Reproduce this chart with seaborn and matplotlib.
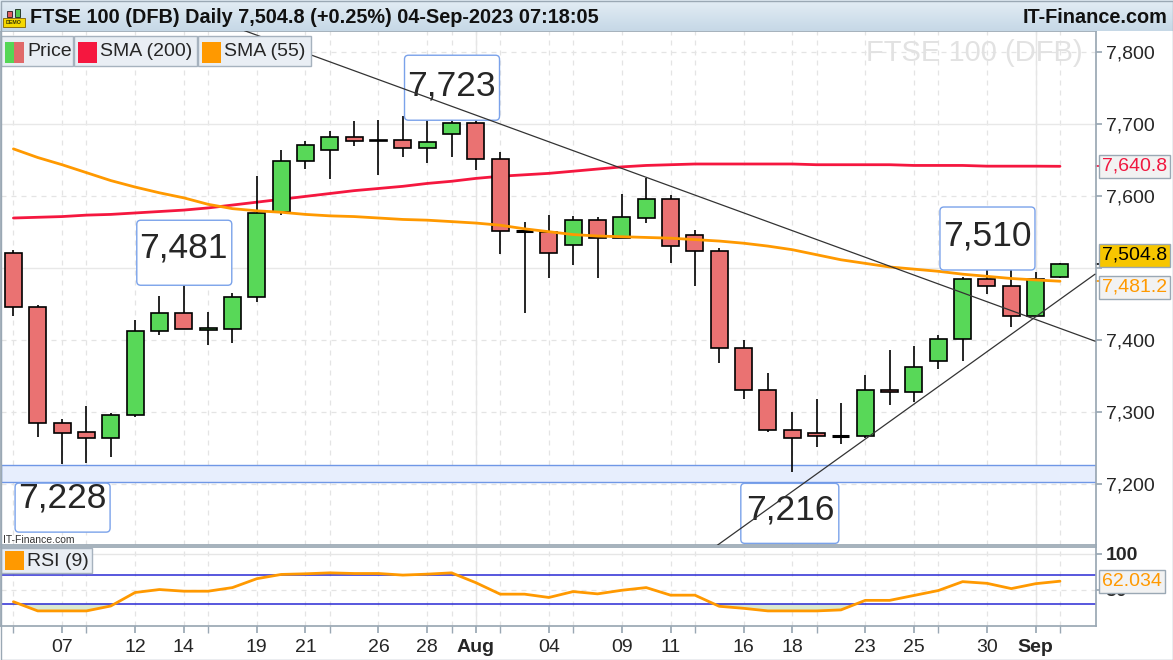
import numpy as np
import pandas as pd
import matplotlib.pyplot as plt
import matplotlib.patches as mpatches
import matplotlib.transforms as mtransforms
from matplotlib.colors import LinearSegmentedColormap
import seaborn as sns

# ---- data ----
dates = pd.bdate_range("2023-07-05", "2023-09-04")

opens = [7521, 7446, 7285, 7272, 7264, 7296, 7412, 7437, 7413, 7415,
         7459, 7577, 7648, 7664, 7682, 7676, 7678, 7666, 7685, 7701,
         7651, 7551, 7549, 7532, 7566, 7541, 7569, 7595, 7545, 7523,
         7388, 7330, 7274, 7270, 7266, 7266, 7330, 7327, 7370, 7401,
         7484, 7474, 7433, 7487]
highs = [7525, 7448, 7290, 7308, 7298, 7427, 7461, 7481, 7438, 7465,
         7628, 7663, 7676, 7690, 7704, 7705, 7711, 7719, 7723, 7713,
         7661, 7563, 7573, 7572, 7571, 7602, 7624, 7601, 7552, 7527,
         7400, 7354, 7300, 7318, 7312, 7351, 7386, 7391, 7407, 7487,
         7510, 7502, 7494, 7507]
lows = [7433, 7265, 7228, 7229, 7237, 7292, 7407, 7415, 7393, 7396,
        7453, 7573, 7637, 7623, 7669, 7629, 7654, 7646, 7654, 7635,
        7519, 7437, 7485, 7504, 7486, 7541, 7562, 7507, 7475, 7368,
        7317, 7272, 7216, 7251, 7255, 7263, 7310, 7314, 7360, 7371,
        7464, 7418, 7432, 7485]
closes = [7446, 7285, 7270, 7264, 7296, 7412, 7437, 7415, 7416, 7459,
          7576, 7648, 7671, 7682, 7676, 7678, 7666, 7674, 7701, 7651,
          7551, 7551, 7521, 7566, 7541, 7571, 7595, 7530, 7523, 7388,
          7330, 7274, 7263, 7266, 7266, 7330, 7327, 7362, 7401, 7484,
          7474, 7433, 7484, 7504.8]

sma200 = [7569, 7570, 7571, 7573, 7574, 7576, 7578, 7580, 7583, 7587,
          7591, 7595, 7599, 7603, 7607, 7610, 7613, 7617, 7620, 7624,
          7627, 7629, 7631, 7634, 7637, 7640, 7642, 7643, 7644, 7644,
          7644, 7644, 7644, 7643, 7643, 7643, 7643, 7642, 7642, 7642,
          7641, 7641, 7641, 7640.8]
sma55 = [7665, 7653, 7643, 7632, 7621, 7612, 7604, 7597, 7588, 7582,
         7579, 7577, 7574, 7572, 7571, 7569, 7567, 7566, 7564, 7562,
         7559, 7554, 7550, 7546, 7544, 7543, 7542, 7541, 7539, 7537,
         7534, 7530, 7525, 7518, 7511, 7506, 7501, 7498, 7495, 7491,
         7488, 7485, 7483, 7481.2]
rsi9 = [33.6, 20.9, 20.9, 20.9, 27.7, 46.4, 50.5, 48.2, 48.2, 53.2,
        65.5, 71.4, 72.3, 73.6, 72.7, 72.7, 70.5, 71.8, 73.6, 60.0,
        44.1, 44.1, 39.5, 47.7, 44.5, 49.5, 53.2, 42.7, 42.7, 27.3,
        24.5, 20.9, 20.9, 20.9, 22.3, 35.5, 35.5, 42.3, 49.1, 61.4,
        59.1, 51.8, 58.6, 62.034]

tick_dates = ["2023-07-07", "2023-07-12", "2023-07-14", "2023-07-19", "2023-07-21",
              "2023-07-26", "2023-07-28", "2023-08-01", "2023-08-04", "2023-08-09",
              "2023-08-11", "2023-08-16", "2023-08-18", "2023-08-23", "2023-08-25",
              "2023-08-30", "2023-09-01"]
tick_labels = ["07", "12", "14", "19", "21", "26", "28", "Aug", "04", "09",
               "11", "16", "18", "23", "25", "30", "Sep"]
minor_dates = ["2023-07-05", "2023-07-10", "2023-07-17", "2023-07-24", "2023-07-31",
               "2023-08-02", "2023-08-07", "2023-08-14", "2023-08-21", "2023-08-28",
               "2023-09-04"]

price_ticks = [7200, 7300, 7400, 7500, 7600, 7700, 7800]
support_band = [7203, 7226]
down_trend_x = [8.0, 44.44]
down_trend_y = [7847.6, 7398]
up_trend_x = [28.0, 44.44]
up_trend_y = [7092.2, 7491]
callout_text = ["7,723", "7,481", "7,228", "7,216", "7,510"]
callout_x = [18.0, 7.0, 2.0, 31.9, 40.0]
callout_y = [7752, 7527, 7180, 7163, 7544]

# box around each callout text, pixels from the text centre (left, top, right, bottom; y down)
callout_box = [(-47, -31, 48, 34), (-47, -28, 48, 37), (-47, -15, 48, 34),
               (-49, -27, 49, 33), (-47, -29, 48, 34)]

# ---- setup ----
sns.set_theme(style="white")
plt.rcParams['font.family'] = ['Liberation Sans', 'DejaVu Sans']

idx = np.arange(len(dates))
pos = {d.strftime("%Y-%m-%d"): i for i, d in enumerate(dates)}
major = [pos[d] for d in tick_dates]
minor = [pos[d] for d in minor_dates]

W, H = 1173, 660
fig = plt.figure(figsize=(W / 100, H / 100), dpi=100)
fig.patch.set_facecolor("white")

ax = fig.add_axes([1 / W, 1 - 545 / H, 1095 / W, 514 / H])
ax2 = fig.add_axes([1 / W, 1 - 626 / H, 1095 / W, 79 / H])

xlim = (-0.51, 44.48)
edge = "#9aa8b4"

# grid
for a in (ax, ax2):
    for t in major + minor:
        a.axvline(t, color="#e4e4e4", lw=0.9, ls=(0, (4, 4)), zorder=0)
    for m in [pos["2023-08-01"], pos["2023-09-01"]]:
        a.axvline(m, color="#e6e6e6", lw=1.0, zorder=0)
for p in price_ticks:
    if p in (7500, 7700):
        ax.axhline(p, color="#e8e8e8", lw=1.0, zorder=0)
    else:
        ax.axhline(p, color="#e4e4e4", lw=0.9, ls=(0, (4, 4)), zorder=0)

# support band
ax.axhspan(support_band[0], support_band[1], facecolor="#e7eefd", edgecolor="#6f97e6",
           lw=1.0, zorder=1)

# moving averages
sns.lineplot(x=idx, y=sma200, ax=ax, color="#f5173f", lw=2, zorder=2)
sns.lineplot(x=idx, y=sma55, ax=ax, color="#ff9900", lw=2, zorder=4)

# candles
o = np.array(opens); c = np.array(closes); hi = np.array(highs); lo = np.array(lows)
ax.vlines(idx, lo, hi, color="black", lw=1.2, zorder=3)
up = c > o
dn = c < o
ax.bar(idx[up], (c - o)[up], bottom=o[up], width=0.7, color="#58d858",
       edgecolor="black", lw=1.2, zorder=3)
ax.bar(idx[dn], (o - c)[dn], bottom=c[dn], width=0.7, color="#ea7272",
       edgecolor="black", lw=1.2, zorder=3)
flat = ~(up | dn)
ax.hlines(c[flat], idx[flat] - 0.35, idx[flat] + 0.35, color="black", lw=2.2, zorder=3)

# trend lines
ax.plot(down_trend_x, down_trend_y, color="#333333", lw=0.9, zorder=6)
ax.plot(up_trend_x, up_trend_y, color="#333333", lw=0.9, zorder=6)

ax.set_xlim(*xlim)
ax.set_ylim(7114.9, 7828.7)

# callouts: text plus a rounded box of fixed pixel size
for t, x, y, b in zip(callout_text, callout_x, callout_y, callout_box):
    px, py = ax.transData.transform((x, y))
    x0, x1 = px + b[0], px + b[2]
    y_top, y_bottom = py - b[1], py - b[3]
    box = mpatches.FancyBboxPatch((x0, y_bottom), x1 - x0, y_top - y_bottom,
                                  boxstyle="round,pad=0,rounding_size=4",
                                  fc="white", ec="#7aa2ea", lw=1, zorder=5,
                                  transform=mtransforms.IdentityTransform())
    ax.add_patch(box)
    ax.text(x, y, t, fontsize=25.5, ha="center", va="center", zorder=5.5)

ax.yaxis.tick_right()
ax.set_yticks(price_ticks)
ax.set_yticklabels(["7,200", "7,300", "7,400", "", "7,600", "7,700", "7,800"])
ax.tick_params(axis="y", labelsize=14, length=4, color=edge, pad=3, right=True)
ax.set_xticks([])
for s in ax.spines.values():
    s.set_color(edge)

ax.text(0.988, 0.958, "FTSE 100 (DFB)", transform=ax.transAxes, ha="right", va="center",
        fontsize=21, color="#e2e2e2", zorder=1)
ax.text(0.002, 0.0, "IT-Finance.com", transform=ax.transAxes, ha="left", va="bottom",
        fontsize=7.5, color="#333333", zorder=6)

# price tags on the right
def tag(value, text, color, fc, dy):
    ax.annotate(text, xy=(1.0, value), xycoords=("axes fraction", "data"),
                xytext=(6, dy), textcoords="offset pixels", ha="left", va="center",
                fontsize=14, color=color, annotation_clip=False, zorder=7,
                bbox=dict(boxstyle="square,pad=0.15", fc=fc, ec="#9aa8b4", lw=1))
    ax.plot([1.0, 1.004], [value, value], color=color, lw=1.2,
            transform=ax.get_yaxis_transform(), clip_on=False)

tag(sma200[-1], "7,640.8", "#f0173f", "#f2f2f2", 0)
tag(closes[-1], "7,504.8", "black", "#f7c600", 9)
tag(sma55[-1], "7,481.2", "#ff9900", "#f2f2f2", -6)

# ---- RSI panel ----
ax2.axhline(100, color="#e6e6e6", lw=1.0, zorder=0)
ax2.axhline(50, color="#e4e4e4", lw=0.9, ls=(0, (4, 4)), zorder=0)
ax2.axhline(70, color="#2a2ad4", lw=1.1, zorder=2)
ax2.axhline(30, color="#2a2ad4", lw=1.1, zorder=2)
r = np.array(rsi9)
ax2.fill_between(idx, r, 30, where=r < 30, interpolate=True, color="#d9e9d2", zorder=1)
sns.lineplot(x=idx, y=rsi9, ax=ax2, color="#ff9900", lw=2, zorder=3)
ax2.set_xlim(*xlim)
ax2.set_ylim(0, 109.4)
ax2.yaxis.tick_right()
ax2.set_yticks([50, 100])
ax2.set_yticklabels(["50", "100"], fontweight="bold")
ax2.tick_params(axis="y", labelsize=14, length=4, color=edge, pad=3, right=True)
ax2.set_xticks(major)
ax2.set_xticklabels(tick_labels)
ax2.set_xticks(minor, minor=True)
ax2.tick_params(axis="x", which="both", labelsize=14, length=5, color=edge, bottom=True, pad=4)
for lab in ax2.get_xticklabels():
    if lab.get_text() in ("Aug", "Sep"):
        lab.set_fontweight("bold")
for s in ax2.spines.values():
    s.set_color(edge)
ax2.set_xlabel(""); ax2.set_ylabel(""); ax.set_xlabel(""); ax.set_ylabel("")

ax2.annotate("62.034", xy=(1.0, rsi9[-1]), xycoords=("axes fraction", "data"),
             xytext=(6, 0), textcoords="offset pixels", ha="left", va="center",
             fontsize=14, color="#ff9900", annotation_clip=False, zorder=7,
             bbox=dict(boxstyle="square,pad=0.15", fc="#f2f2f2", ec="#9aa8b4", lw=1))

# ---- chrome: header, legends ----
head = fig.add_axes([0, 1 - 31 / H, 1, 31 / H])
grad = np.linspace(0, 1, 50).reshape(-1, 1)
head.imshow(grad, aspect="auto", extent=(0, 1, 0, 1),
            cmap=LinearSegmentedColormap.from_list("h", ["#e3edf5", "#c6d8e6"]))
head.set_xlim(0, 1); head.set_ylim(0, 1); head.axis("off")
head.text(30 / W, 0.45, "FTSE 100 (DFB) Daily 7,504.8 (+0.25%) 04-Sep-2023 07:18:05",
          fontsize=14.3, fontweight="bold", va="center", ha="left", color="#111111")
head.text(1168 / W, 0.45, "IT-Finance.com", fontsize=14.3, fontweight="bold",
          va="center", ha="right", color="#111111")

lay = fig.add_axes([0, 0, 1, 1], zorder=20)
lay.set_xlim(0, W); lay.set_ylim(H, 0); lay.axis("off")
lay.patch.set_alpha(0)

# demo icon
lay.add_patch(mpatches.Rectangle((3, 18), 22, 9, fc="#f5d800", ec="#806000", lw=0.6))
lay.text(14, 22.5, "DEMO", fontsize=3.8, ha="center", va="center", color="#333300",
         fontweight="bold")
lay.add_patch(mpatches.Rectangle((7, 11), 5, 6, fc="#e06060", ec="black", lw=0.5))
lay.add_patch(mpatches.Rectangle((15, 9), 5, 8, fc="#50c850", ec="black", lw=0.5))

boxes = [(1, 73, "Price"), (74, 197, "SMA (200)"), (198, 311, "SMA (55)")]
for x0, x1, t in boxes:
    lay.add_patch(mpatches.Rectangle((x0, 36), x1 - x0, 30, fc="#e9eef4", ec="#a6b2be", lw=1))
lay.add_patch(mpatches.Rectangle((5, 42), 10, 21, fc="#55d655", lw=0))
lay.add_patch(mpatches.Rectangle((14, 42), 10, 21, fc="#e06a6a", lw=0))
lay.add_patch(mpatches.Rectangle((78, 42), 19, 21, fc="#f5173f", lw=0))
lay.add_patch(mpatches.Rectangle((202, 42), 19, 21, fc="#ff9900", lw=0))
lay.text(27, 52, "Price", fontsize=14, va="center", ha="left")
lay.text(100, 52, "SMA (200)", fontsize=14, va="center", ha="left")
lay.text(224, 52, "SMA (55)", fontsize=14, va="center", ha="left")

lay.add_patch(mpatches.Rectangle((1, 548), 91, 25, fc="#e9eef4", ec="#a6b2be", lw=1))
lay.add_patch(mpatches.Rectangle((5, 551), 19, 19, fc="#ff9900", lw=0))
lay.text(27, 561, "RSI (9)", fontsize=14, va="center", ha="left")

lay.add_patch(mpatches.Rectangle((0.5, 0.5), W - 1, H - 1, fc="none", ec="#9aa8b4", lw=1))

fig.savefig("out.png", dpi=100)
